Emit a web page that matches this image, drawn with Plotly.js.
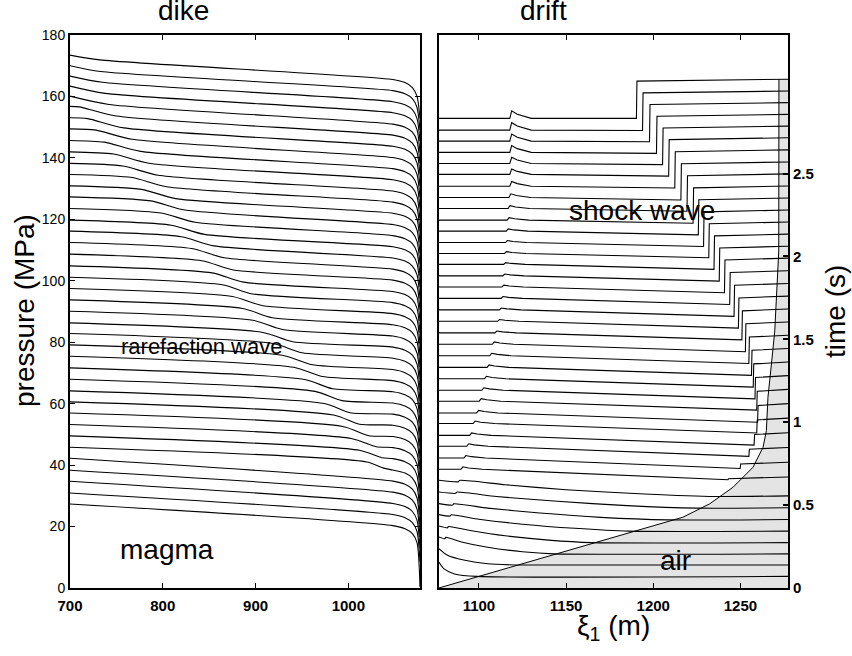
<!DOCTYPE html>
<html><head><meta charset="utf-8">
<script src="https://cdn.plot.ly/plotly-3.0.1.min.js"></script>
<style>body{margin:0;background:#fff}#c{width:852px;height:656px}</style>
</head><body><div id="c"></div>
<script>
// ---------- DIKE panel (pressure, MPa) : one curve per output time, i = 0 (t=0) ... 40 ----------
const dikeP700 = [27.35,30.93,34.74,38.33,42.23,45.82,49.50,53.21,56.98,60.57,64.15,67.96,71.64,75.45,79.13,82.84,86.29,90.10,93.78,97.49,101.17,104.85,108.66,112.47,116.15,119.73,123.54,127.32,130.90,134.61,138.20,141.97,145.68,149.46,153.05,156.76,160.11,163.36,166.62,169.98,173.46];
const dikeHeadX = [null,null,null,null,null,1020,1012,1003,994,984,974,964,953,941,930,919,908,897,886,875,864,853,842,831,820,809,798,787,777,767,757,747,737,728,719,710,null,null,null,null,null];
const dikeHeadP = [null,null,null,null,null,41.02,44.82,48.67,52.57,56.31,60.04,64.00,67.85,71.84,75.68,79.56,83.17,87.15,90.99,94.87,98.71,102.56,106.53,110.51,114.35,118.10,122.07,126.02,129.75,133.61,137.35,141.27,145.13,149.04,152.77,156.61,null,null,null,null,null];
const dikeTailX = [null,null,null,null,null,1038,1036,1030,1022,1012,1002,993,983,972,961,950,940,929,918,908,897,887,876,866,855,845,835,824,814,804,795,785,776,767,758,750,742,738,735,733,732];
const dikeTailP = [null,null,null,null,null,39.02,42.42,45.97,49.57,53.31,57.04,61.00,64.85,68.84,72.68,76.56,80.17,84.15,87.99,91.87,95.71,99.56,103.53,107.51,111.35,115.10,119.07,123.02,126.75,130.61,134.35,138.27,142.13,146.04,149.77,153.61,157.4,161.0,164.6,168.1,171.9];
const dikeKneeP = [20.3,23.9,27.5,31.2,34.8,38.4,42.1,45.7,49.3,53.0,56.6,60.2,63.9,67.5,71.1,74.8,78.4,82.0,85.7,89.3,92.9,96.5,100.2,103.8,107.4,111.1,114.7,118.3,122.0,125.6,129.2,132.9,136.5,140.1,143.8,147.4,151.0,154.7,158.3,161.9,165.5];
const dikeExitP = [0.3,8.47,12.83,16.61,20.19,23.90,27.48,31.26,35.07,38.65,42.33,46.14,49.72,53.53,56.98,60.79,64.38,68.12,71.83,75.58,79.32,83.07,86.81,90.56,94.27,98.01,101.60,105.31,108.89,112.47,116.15,119.73,123.54,127.12,130.80,134.61,138.20,141.78,145.46,149.04,152.85];
const dikeKneeX = 1048, dikeExitX = 1077.2;
const kneeBendX = [1061, 1069, 1074];
const kneeBendDrop = [1.0, 2.6, 5.5];

// ---------- DRIFT panel (read against the time axis, s) ----------
// early curves i = 1..8 (read point by point)
const earlyX = [
 [1077,1080,1086,1099,1277.3],
 [1077,1082,1092,1105,1121,1277.3],
 [1077,1080.5,1081,1090,1105,1125,1143,1277.3],
 [1077,1082,1082.5,1095,1115,1140,1164.5,1277.3],
 [1077,1083.5,1084,1100,1125,1155,1186,1277.3],
 [1077,1085,1085.5,1105,1135,1170,1208,1277.3],
 [1077,1086.7,1087.2,1110,1145,1185,1225,1277.3],
 [1077,1088.3,1088.8,1115,1150,1195,1236,1277.3]];
const earlyT = [
 [0.157,0.115,0.085,0.070,0.070],
 [0.238,0.198,0.167,0.146,0.139,0.139],
 [0.308,0.297,0.306,0.278,0.246,0.219,0.206,0.206],
 [0.374,0.363,0.371,0.347,0.315,0.289,0.274,0.274],
 [0.443,0.434,0.441,0.415,0.385,0.360,0.343,0.343],
 [0.509,0.500,0.508,0.482,0.452,0.426,0.411,0.413],
 [0.579,0.571,0.578,0.552,0.523,0.497,0.482,0.484],
 [0.650,0.641,0.649,0.623,0.593,0.567,0.552,0.556]];
// later curves i = 9..40
const lateLeftT = [0.716,0.784,0.855,0.921,0.992,1.056,1.127,1.193,1.262,1.331,1.401,1.470,1.539,1.609,1.678,1.747,1.816,1.883,1.952,2.018,2.084,2.153,2.219,2.289,2.356,2.424,2.495,2.561,2.628,2.696,2.762,2.833];
const lateBumpX = [1090,1091.7,1093.3,1095,1097,1099,1100.5,1102,1103.5,1105,1106.5,1108,1109.5,1111,1112,1113,1113.5,1114,1114.5,1115,1115.5,1116,1116.5,1117,1117.5,1118,1118,1118,1118,1118,1118,1118];
const lateBumpA = [0.015,0.015,0.015,0.015,0.015,0.015,0.015,0.015,0.015,0.015,0.015,0.015,0.011,0.011,0.011,0.011,0.011,0.011,0.011,0.011,0.012,0.013,0.015,0.017,0.022,0.028,0.033,0.037,0.041,0.043,0.045,0.046];
const lateShockX = [1243,1250,1255,1258,1259.5,1260,1259.5,1258.5,1257.5,1256.5,1255,1253,1251,1249,1246.5,1244,1241,1238,1235,1232,1229,1226,1223,1219.5,1216,1212.5,1209,1205.5,1202,1198,1194,1190.5];
const latePreT = [0.653,0.721,0.794,0.862,0.935,1.000,1.073,1.141,1.212,1.283,1.354,1.425,1.497,1.568,1.639,1.710,1.781,1.851,1.922,1.992,2.060,2.130,2.200,2.273,2.341,2.413,2.485,2.554,2.622,2.692,2.760,2.833];
const latePostT = [0.659,0.748,0.837,0.926,1.014,1.101,1.187,1.270,1.352,1.434,1.514,1.594,1.672,1.750,1.826,1.903,1.979,2.051,2.124,2.197,2.269,2.342,2.414,2.487,2.559,2.632,2.705,2.775,2.846,2.917,2.987,3.058];
const lateRightT = [0.670,0.759,0.848,0.937,1.025,1.112,1.198,1.281,1.363,1.445,1.525,1.605,1.683,1.761,1.837,1.914,1.990,2.062,2.135,2.208,2.280,2.353,2.425,2.498,2.570,2.643,2.716,2.786,2.857,2.928,2.998,3.069];
// magma / air contact (m, s)
const contactX = [1077,1140,1190,1217,1232.4,1245.8,1257.2,1263.0,1264.9,1265.8,1267.8,1269.7,1272.0,1272.1];
const contactT = [0,0.192,0.345,0.427,0.508,0.608,0.728,0.849,0.949,1.150,1.351,1.551,2.033,3.067];
const driftLeftX = 1077.1, driftRightX = 1277.3, airTopT = 3.067;

const timeTicks = [0,0.5,1,1.5,2,2.5];

// ---------- build traces ----------
const L = {color:'#000', width:1.1};
const traces = [];
// air region
traces.push({x: contactX.concat([driftRightX, driftRightX]), y: contactT.concat([airTopT, 0]),
  xaxis:'x2', yaxis:'y2', mode:'lines', fill:'toself', fillcolor:'#e4e4e4', line:{width:0}, hoverinfo:'skip', showlegend:false});
traces.push({x: contactX, y: contactT, xaxis:'x2', yaxis:'y2', mode:'lines', line:{color:'#000',width:1}, hoverinfo:'skip', showlegend:false});

for (let i = 0; i < dikeP700.length; i++) {
  const xs = [700], ys = [dikeP700[i]];
  if (dikeHeadX[i] !== null) { xs.push(dikeHeadX[i]); ys.push(dikeHeadP[i]); }
  if (dikeTailX[i] !== null) { xs.push(dikeTailX[i]); ys.push(dikeTailP[i]); }
  xs.push(dikeKneeX); ys.push(dikeKneeP[i]);
  for (let k = 0; k < kneeBendX.length; k++) { xs.push(kneeBendX[k]); ys.push(dikeKneeP[i] - kneeBendDrop[k]); }
  xs.push(dikeExitX); ys.push(dikeExitP[i]);
  traces.push({x: xs, y: ys, xaxis:'x', yaxis:'y', mode:'lines', line:Object.assign({shape:'spline', smoothing:0.7}, L), hoverinfo:'skip', showlegend:false});
}
for (let i = 0; i < earlyX.length; i++) {
  traces.push({x: earlyX[i], y: earlyT[i], xaxis:'x2', yaxis:'y2', mode:'lines', line:Object.assign({shape:'spline', smoothing:0.6}, L), hoverinfo:'skip', showlegend:false});
}
for (let i = 0; i < lateLeftT.length; i++) {
  const b = lateBumpX[i], a = lateBumpA[i], l = lateLeftT[i], s = lateShockX[i];
  const xs = [driftLeftX, b - 0.3, b + 0.8, b + 4, b + 12, s - 0.15, s + 0.15, driftRightX];
  const ys = [l, l, l + a, l + 0.55 * a, l, latePreT[i], latePostT[i], lateRightT[i]];
  traces.push({x: xs, y: ys, xaxis:'x2', yaxis:'y2', mode:'lines', line:L, hoverinfo:'skip', showlegend:false});
}

// ---------- layout ----------
const F = 'Liberation Sans, Arial, Helvetica, sans-serif';
const W = 852, H = 656, ml = 70, mr = 64, mt = 35, mb = 68;
const pw = W - ml - mr, ph = H - mt - mb;
const px = v => (v - ml) / pw, py = v => (H - mb - v) / ph;
function ann(text, x, y, size, extra) {
  return Object.assign({text, xref:'paper', yref:'paper', x: px(x), y: py(y), showarrow:false,
    xanchor:'center', yanchor:'middle', font:{family:F, size, color:'#000'}}, extra || {});
}
const axBase = {showgrid:false, zeroline:false, showline:true, linecolor:'#000', linewidth:2,
  ticks:'inside', ticklen:5, tickwidth:1, tickcolor:'#000'};
const layout = {
  width: W, height: H, margin:{l:ml, r:mr, t:mt, b:mb}, paper_bgcolor:'#fff', plot_bgcolor:'#fff',
  showlegend:false,
  xaxis: Object.assign({}, axBase, {domain:[0, 350/pw], range:[700, 1077.2], tickvals:[700,800,900,1000],
    mirror:'allticks', anchor:'y', ticklabelstandoff:3, tickfont:{family:F, size:15, weight:'bold', color:'#000'}}),
  yaxis: Object.assign({}, axBase, {range:[0,180], dtick:20, mirror:'allticks', anchor:'x',
    tickfont:{family:F, size:14, color:'#000'}}),
  xaxis2: Object.assign({}, axBase, {domain:[369/pw, 1], range:[driftLeftX, driftRightX], tickvals:[1100,1150,1200,1250],
    mirror:'allticks', anchor:'y2', ticklabelstandoff:3, tickfont:{family:F, size:15, weight:'bold', color:'#000'}}),
  yaxis2: Object.assign({}, axBase, {range:[0, 3.336], tickvals: timeTicks, side:'right', anchor:'x2', mirror:true,
    tickwidth:2, tickfont:{family:F, size:15, weight:'bold', color:'#000'}}),
  annotations: [
    ann('dike', 183.5, 10, 28),
    ann('drift', 543, 10, 28),
    ann('pressure (MPa)', 24, 311, 28, {textangle:-90}),
    ann('time (s)', 835, 311, 28, {textangle:-90}),
    ann('ξ<sub>1</sub> (m)', 613, 627, 28),
    ann('rarefaction wave', 201.5, 346, 22),
    ann('magma', 167, 549, 28),
    ann('shock wave', 642, 211, 28),
    ann('air', 675, 560, 28)
  ]
};
Plotly.newPlot('c', traces, layout, {staticPlot:true, displayModeBar:false});
</script></body></html>
